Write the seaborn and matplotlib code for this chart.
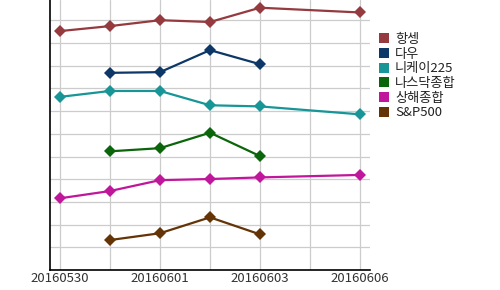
import matplotlib
matplotlib.use("Agg")
import matplotlib.pyplot as plt
from matplotlib.lines import Line2D
import seaborn as sns
import pandas as pd
import numpy as np

dates = ["20160530", "20160531", "20160601", "20160602", "20160603", "20160605", "20160606"]
tick_dates = ["20160530", "20160601", "20160603", "20160606"]
series = ["항셍", "다우", "니케이225", "나스닥종합", "상해종합", "S&P500"]
colors = ["#953a3e", "#0c3766", "#179597", "#0b650b", "#c0169b", "#643306"]

hangseng = [10.53, 10.75, 11.01, 10.93, 11.56, None, 11.35]
dow = [None, 8.69, 8.72, 9.69, 9.07, None, None]
nikkei = [7.63, 7.89, 7.89, 7.26, 7.21, None, 6.86]
nasdaq = [None, 5.23, 5.37, 6.05, 5.02, None, None]
shanghai = [3.16, 3.48, 3.96, 4.01, 4.08, None, 4.19]
sp500 = [None, 1.32, 1.62, 2.32, 1.57, None, None]
values = [hangseng, dow, nikkei, nasdaq, shanghai, sp500]

rows = []
for name, vals in zip(series, values):
    for i, v in enumerate(vals):
        if v is not None:
            rows.append({"pos": i, "date": dates[i], "series": name, "value": v})
df = pd.DataFrame(rows)

sns.set_theme(style="white")
plt.rcParams["font.family"] = ["Noto Sans CJK KR", "DejaVu Sans"]

fig = plt.figure(figsize=(5, 2.9), dpi=100)
ax = fig.add_axes([0.1, 0.069, 0.64, 0.931])

sns.lineplot(data=df, x="pos", y="value", hue="series", hue_order=series,
             palette=colors, marker="D", markersize=6.5, markeredgewidth=0,
             linewidth=1.6, ax=ax, legend=False, sort=True, estimator=None)

ax.set_xlim(-0.2, 6.2)
ax.set_ylim(0, 11.9)
ax.set_xticks(range(len(dates)))
ax.set_xticklabels([d if d in tick_dates else "" for d in dates], fontsize=9.5, color="#333333")
ax.set_yticks(np.arange(1, 12))
ax.set_yticklabels([])
ax.tick_params(axis="both", length=0, pad=1.5)
ax.grid(True, color="#cccccc", linewidth=0.9)
ax.set_xlabel("")
ax.set_ylabel("")
for s in ["top", "right"]:
    ax.spines[s].set_visible(False)
for s in ["left", "bottom"]:
    ax.spines[s].set_color("black")
    ax.spines[s].set_linewidth(1.2)

handles = [Line2D([0], [0], marker="s", linestyle="", markersize=7.5,
                  markerfacecolor=c, markeredgewidth=0) for c in colors]
fig.legend(handles, series, loc="upper left", bbox_to_anchor=(0.745, 0.905),
           frameon=False, fontsize=9.5, handletextpad=0.3, labelspacing=0.13,
           handlelength=1.0, borderaxespad=0, labelcolor="#222222")

fig.savefig("out.png", dpi=100)
